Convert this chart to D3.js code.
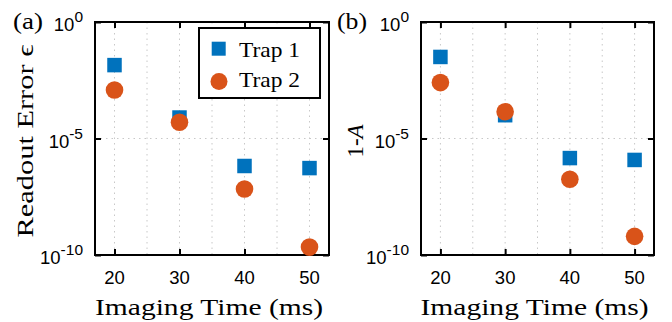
<!DOCTYPE html>
<html>
<head>
<meta charset="utf-8">
<script src="https://cdn.jsdelivr.net/npm/d3@7"></script>
<style>
  body { margin: 0; background: #fff; }
  svg text { fill: #000; }
  .serif { font-family: "Liberation Serif", "DejaVu Serif", serif; }
  .sans { font-family: "Liberation Sans", Arial, sans-serif; }
</style>
</head>
<body>
<svg id="fig" width="672" height="322"></svg>
<script>
// 两个子图：读出误差 / 1-A 随成像时间
const TIMES = [20, 30, 40, 50];
const X_TICKS = [20, 30, 40, 50];
const X_GRID = [20, 25, 30, 35, 40, 45, 50];
const Y_TICKS = [0, -5, -10]; // 指数

// 读图估计的 log10 值
const A_TRAP1 = [-1.85, -4.1, -6.18, -6.27];
const A_TRAP2 = [-2.92, -4.3, -7.17, -9.66];
const B_TRAP1 = [-1.5, -4.0, -5.84, -5.92];
const B_TRAP2 = [-2.6, -3.85, -6.75, -9.2];

const SERIES_NAMES = ["Trap 1", "Trap 2"];
const BLUE = "#0072BD", ORANGE = "#D95319";

const svg = d3.select("#fig");

function panel(opt) {
  const { left, right, top, bottom } = opt;
  const x = d3.scaleLinear().domain([17, 53]).range([left, right]);
  const y = d3.scaleLog().domain([1e-10, 1]).range([bottom, top]);
  const g = svg.append("g");

  // 网格
  g.append("g").selectAll("line").data(X_GRID).join("line")
    .attr("x1", (d) => x(d)).attr("x2", (d) => x(d))
    .attr("y1", top).attr("y2", bottom)
    .attr("stroke", "#c8c8c8").attr("stroke-width", 1).attr("stroke-dasharray", "1.5,4");
  g.append("g").selectAll("line").data(Y_TICKS.slice(1, -1)).join("line")
    .attr("x1", left).attr("x2", right)
    .attr("y1", (d) => y(Math.pow(10, d))).attr("y2", (d) => y(Math.pow(10, d)))
    .attr("stroke", "#c8c8c8").attr("stroke-width", 1).attr("stroke-dasharray", "1.5,4");

  // 坐标轴（刻度朝内，四边）
  const yv = Y_TICKS.map((e) => Math.pow(10, e));
  const axes = [
    [d3.axisBottom(x).tickValues(X_TICKS), `translate(0,${bottom})`],
    [d3.axisTop(x).tickValues(X_TICKS), `translate(0,${top})`],
    [d3.axisLeft(y).tickValues(yv), `translate(${left},0)`],
    [d3.axisRight(y).tickValues(yv), `translate(${right},0)`],
  ];
  axes.forEach(([ax, t]) => {
    const a = g.append("g").attr("transform", t).call(ax.tickSize(-6).tickFormat(""));
    a.select(".domain").remove();
    a.selectAll(".tick line").attr("stroke", "#000").attr("stroke-width", 2);
  });
  g.append("rect").attr("x", left).attr("y", top)
    .attr("width", right - left).attr("height", bottom - top)
    .attr("fill", "none").attr("stroke", "#000").attr("stroke-width", 2);

  // x 刻度标签
  g.append("g").selectAll("text").data(X_TICKS).join("text")
    .attr("class", "sans").attr("x", (d) => x(d)).attr("y", bottom + 29)
    .attr("text-anchor", "middle").attr("font-size", 18.5).text((d) => d);

  // y 刻度标签 10^n
  const yt = g.append("g").selectAll("text").data(Y_TICKS).join("text")
    .attr("class", "sans").attr("text-anchor", "end")
    .attr("x", left - 12).attr("y", (d) => y(Math.pow(10, d)) + 9)
    .attr("font-size", 18.5);
  yt.append("tspan").text("10");
  yt.append("tspan").attr("dy", -9).attr("font-size", 15.5).text((d) => d === 0 ? "0" : "-" + Math.abs(d));

  // x 轴标题
  g.append("text").attr("class", "serif")
    .attr("x", (left + right) / 2 - 3).attr("y", 315)
    .attr("text-anchor", "middle").attr("font-size", 24)
    .attr("textLength", 228).attr("lengthAdjust", "spacingAndGlyphs")
    .text("Imaging Time (ms)");

  // 数据点
  const sq = 14.5;
  g.append("g").selectAll("rect").data(opt.s1.map((v, i) => [TIMES[i], v])).join("rect")
    .attr("x", (d) => x(d[0]) - sq / 2).attr("y", (d) => y(Math.pow(10, d[1])) - sq / 2)
    .attr("width", sq).attr("height", sq).attr("fill", BLUE);
  g.append("g").selectAll("circle").data(opt.s2.map((v, i) => [TIMES[i], v])).join("circle")
    .attr("cx", (d) => x(d[0])).attr("cy", (d) => y(Math.pow(10, d[1])))
    .attr("r", 8.8).attr("fill", ORANGE);

  // 面板标号
  g.append("text").attr("class", "serif").attr("x", opt.labelX).attr("y", 29)
    .attr("font-size", 23).attr("textLength", 30).attr("lengthAdjust", "spacingAndGlyphs")
    .text(opt.tag);

  return { x, y, g };
}

const pa = panel({ left: 95, right: 329, top: 22, bottom: 255, s1: A_TRAP1, s2: A_TRAP2, tag: "(a)", labelX: 13 });
const pb = panel({ left: 421, right: 654, top: 22, bottom: 255, s1: B_TRAP1, s2: B_TRAP2, tag: "(b)", labelX: 337 });

// y 轴标题
svg.append("text").attr("class", "serif")
  .attr("transform", "translate(33,141) rotate(-90)")
  .attr("text-anchor", "middle").attr("font-size", 23)
  .attr("textLength", 193).attr("lengthAdjust", "spacingAndGlyphs")
  .text("Readout Error \u03F5");
svg.append("text").attr("class", "serif")
  .attr("transform", "translate(363,141) rotate(-90)")
  .attr("text-anchor", "middle").attr("font-size", 23)
  .html('1-<tspan font-style="italic">A</tspan>');

// 图例
const lg = pa.g.append("g");
lg.append("rect").attr("x", 199).attr("y", 28).attr("width", 121).attr("height", 70)
  .attr("fill", "#fff").attr("stroke", "#000").attr("stroke-width", 2);
lg.append("rect").attr("x", 211.7).attr("y", 41.7).attr("width", 14).attr("height", 14).attr("fill", BLUE);
lg.append("circle").attr("cx", 219).attr("cy", 81.5).attr("r", 8.5).attr("fill", ORANGE);
lg.selectAll("text.lt").data(SERIES_NAMES).join("text").attr("class", "serif lt")
  .attr("x", 239).attr("y", (d, i) => 56.5 + i * 30.5).attr("font-size", 22)
  .attr("textLength", 61).attr("lengthAdjust", "spacingAndGlyphs")
  .text((d) => d);
</script>
</body>
</html>
